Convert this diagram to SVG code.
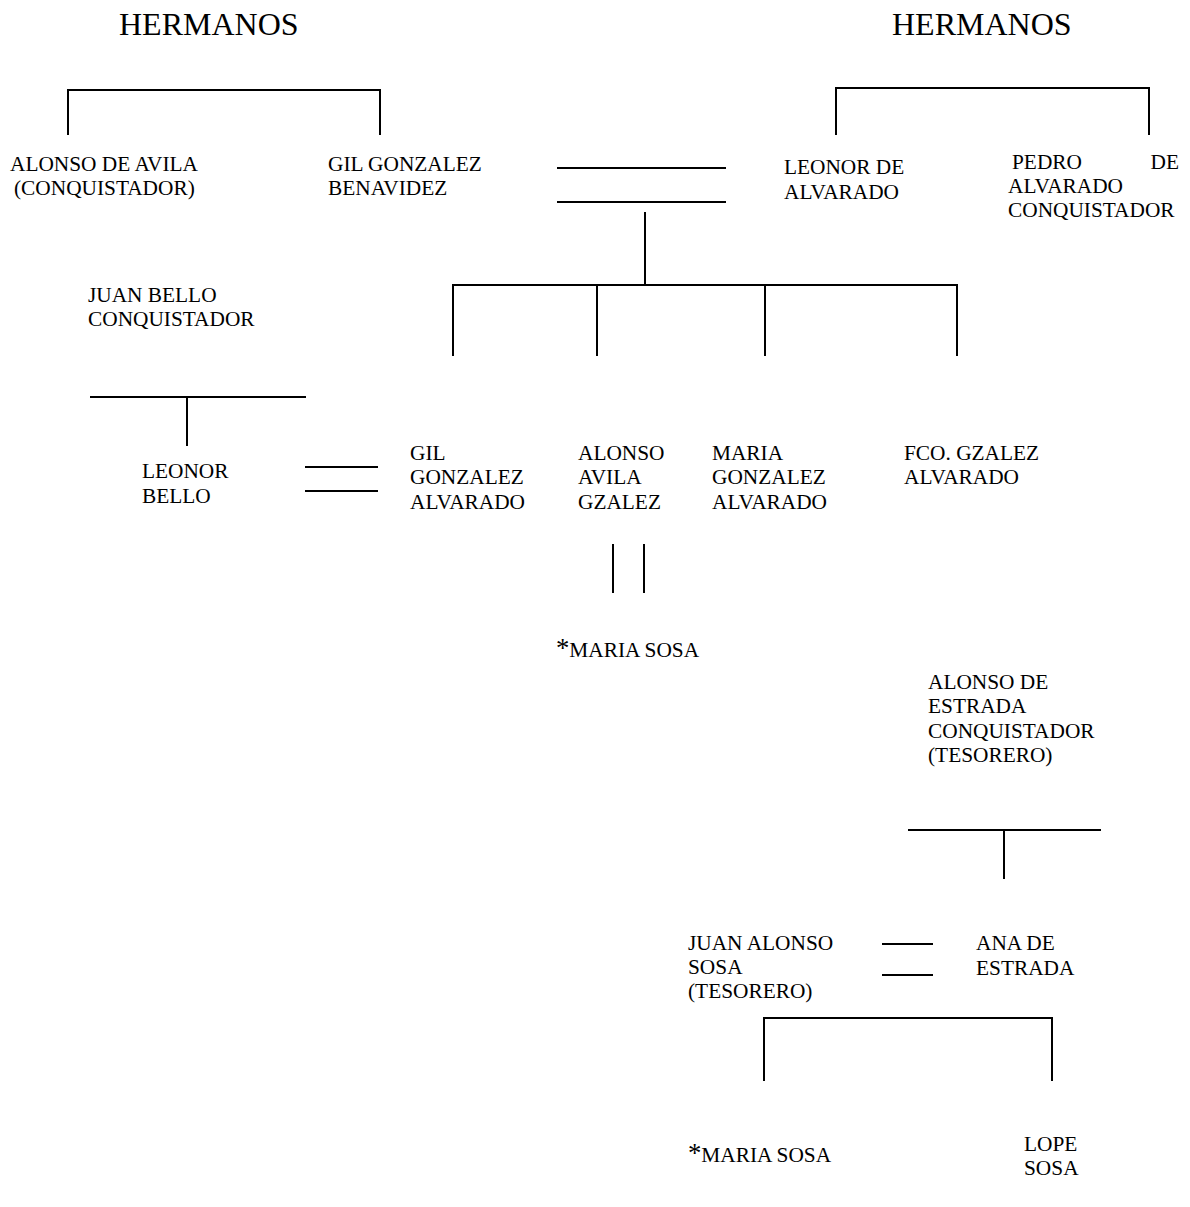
<svg xmlns="http://www.w3.org/2000/svg" width="1190" height="1207" viewBox="0 0 1190 1207">
<style>
text{font-family:"Liberation Serif","Times New Roman",serif;font-size:21.33px;fill:#000}
.h{font-size:32px}
.ast{font-size:26.67px}
.c line{stroke:#000;stroke-width:2;fill:none}
</style>
<rect width="1190" height="1207" fill="#fff"/>
<g id="connectors" class="c">
<line x1="68" y1="90" x2="380" y2="90"/>
<line x1="68" y1="89" x2="68" y2="135"/>
<line x1="380" y1="89" x2="380" y2="135"/>
<line x1="836" y1="88" x2="1149" y2="88"/>
<line x1="836" y1="87" x2="836" y2="135"/>
<line x1="1149" y1="87" x2="1149" y2="135"/>
<line x1="557" y1="168" x2="726" y2="168"/>
<line x1="557" y1="202" x2="726" y2="202"/>
<line x1="645" y1="212" x2="645" y2="285"/>
<line x1="453" y1="285" x2="957" y2="285"/>
<line x1="453" y1="284" x2="453" y2="356"/>
<line x1="597" y1="285" x2="597" y2="356"/>
<line x1="765" y1="285" x2="765" y2="356"/>
<line x1="957" y1="284" x2="957" y2="356"/>
<line x1="90" y1="397" x2="306" y2="397"/>
<line x1="187" y1="397" x2="187" y2="446"/>
<line x1="305" y1="467" x2="378" y2="467"/>
<line x1="305" y1="491" x2="378" y2="491"/>
<line x1="613" y1="544" x2="613" y2="593"/>
<line x1="644" y1="544" x2="644" y2="593"/>
<line x1="908" y1="830" x2="1101" y2="830"/>
<line x1="1004" y1="830" x2="1004" y2="879"/>
<line x1="882" y1="944" x2="933" y2="944"/>
<line x1="882" y1="975" x2="933" y2="975"/>
<line x1="764" y1="1018" x2="1052" y2="1018"/>
<line x1="764" y1="1017" x2="764" y2="1081"/>
<line x1="1052" y1="1017" x2="1052" y2="1081"/>
</g>
<g id="hermanos-left"><text class="h" x="119" y="35">HERMANOS</text></g>
<g id="hermanos-right"><text class="h" x="892" y="35">HERMANOS</text></g>
<g id="alonso-de-avila"><text x="10" y="171">ALONSO DE AVILA</text><text x="14" y="195">(CONQUISTADOR)</text></g>
<g id="gil-gonzalez-benavidez"><text x="328" y="171">GIL GONZALEZ</text><text x="328" y="195">BENAVIDEZ</text></g>
<g id="leonor-de-alvarado"><text x="784" y="174">LEONOR DE</text><text x="784" y="199">ALVARADO</text></g>
<g id="pedro-de-alvarado"><text x="1012" y="169">PEDRO</text><text x="1179" y="169" text-anchor="end">DE</text><text x="1008" y="193">ALVARADO</text><text x="1008" y="217">CONQUISTADOR</text></g>
<g id="juan-bello"><text x="88" y="302">JUAN BELLO</text><text x="88" y="326">CONQUISTADOR</text></g>
<g id="leonor-bello"><text x="142" y="478">LEONOR</text><text x="142" y="503">BELLO</text></g>
<g id="gil-gonzalez-alvarado"><text x="410" y="460">GIL</text><text x="410" y="484">GONZALEZ</text><text x="410" y="509">ALVARADO</text></g>
<g id="alonso-avila-gzalez"><text x="578" y="460">ALONSO</text><text x="578" y="484">AVILA</text><text x="578" y="509">GZALEZ</text></g>
<g id="maria-gonzalez-alvarado"><text x="712" y="460">MARIA</text><text x="712" y="484">GONZALEZ</text><text x="712" y="509">ALVARADO</text></g>
<g id="fco-gzalez-alvarado"><text x="904" y="460">FCO. GZALEZ</text><text x="904" y="484">ALVARADO</text></g>
<g id="maria-sosa-1"><text x="556" y="657"><tspan class="ast">*</tspan>MARIA SOSA</text></g>
<g id="alonso-de-estrada"><text x="928" y="689">ALONSO DE</text><text x="928" y="713">ESTRADA</text><text x="928" y="738">CONQUISTADOR</text><text x="928" y="762">(TESORERO)</text></g>
<g id="juan-alonso-sosa"><text x="688" y="950">JUAN ALONSO</text><text x="688" y="974">SOSA</text><text x="688" y="998">(TESORERO)</text></g>
<g id="ana-de-estrada"><text x="976" y="950">ANA DE</text><text x="976" y="975">ESTRADA</text></g>
<g id="maria-sosa-2"><text x="688" y="1162"><tspan class="ast">*</tspan>MARIA SOSA</text></g>
<g id="lope-sosa"><text x="1024" y="1151">LOPE</text><text x="1024" y="1175">SOSA</text></g>
</svg>
